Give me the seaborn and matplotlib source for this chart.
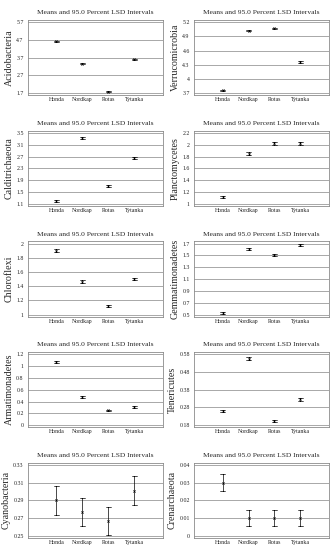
import numpy as np
import pandas as pd
import matplotlib
matplotlib.use("Agg")
import matplotlib.pyplot as plt
import seaborn as sns

# Groups (sites)
groups = ["Honda", "Nordkap", "Rotas", "Tytanka"]

# Means, one list per taxon
acidobacteria = [4.63, 3.36, 1.78, 3.60]
verrucomicrobia = [3.76, 5.02, 5.07, 4.36]
calditrichaeota = [1.20, 3.31, 1.69, 2.65]
planctomycetes = [1.12, 1.85, 2.02, 2.02]
chloroflexi = [1.90, 1.46, 1.12, 1.50]
gemmatimonadetes = [0.53, 1.61, 1.51, 1.67]
armatimonadetes = [1.07, 0.47, 0.25, 0.31]
tenericutes = [0.26, 0.554, 0.204, 0.327]
cyanobacteria = [0.290, 0.277, 0.267, 0.301]
crenarchaeota = [0.030, 0.010, 0.010, 0.010]

# LSD interval half widths
half_widths = [0.03, 0.015, 0.035, 0.02, 0.02, 0.015, 0.015, 0.008, 0.016, 0.0047]

# y tick values per panel
ticks_acido = [1.7, 2.7, 3.7, 4.7, 5.7]
ticks_verruco = [3.7, 4, 4.3, 4.6, 4.9, 5.2]
ticks_caldi = [1.1, 1.5, 1.9, 2.3, 2.7, 3.1, 3.5]
ticks_plancto = [1, 1.2, 1.4, 1.6, 1.8, 2, 2.2]
ticks_chloro = [1, 1.2, 1.4, 1.6, 1.8, 2]
ticks_gemma = [0.5, 0.7, 0.9, 1.1, 1.3, 1.5, 1.7]
ticks_armati = [0, 0.2, 0.4, 0.6, 0.8, 1, 1.2]
ticks_teneri = [0.18, 0.28, 0.38, 0.48, 0.58]
ticks_cyano = [0.25, 0.27, 0.29, 0.31, 0.33]
ticks_crena = [0, 0.01, 0.02, 0.03, 0.04]

panels = [
    ("Acidobacteria", acidobacteria, ticks_acido),
    ("Verrucomicrobia", verrucomicrobia, ticks_verruco),
    ("Calditrichaeota", calditrichaeota, ticks_caldi),
    ("Planctomycetes", planctomycetes, ticks_plancto),
    ("Chloroflexi", chloroflexi, ticks_chloro),
    ("Gemmatimonadetes", gemmatimonadetes, ticks_gemma),
    ("Armatimonadetes", armatimonadetes, ticks_armati),
    ("Tenericutes", tenericutes, ticks_teneri),
    ("Cyanobacteria", cyanobacteria, ticks_cyano),
    ("Crenarchaeota", crenarchaeota, ticks_crena),
]

sns.set_theme(style="white")
plt.rcParams["font.family"] = ["Liberation Serif", "DejaVu Serif"]

fig, axes = plt.subplots(5, 2, figsize=(3.32, 5.5), dpi=100)
fig.subplots_adjust(left=0.084, right=0.991, top=0.9636, bottom=0.0218,
                    hspace=0.47, wspace=0.23)

for ax, (name, means, ticks), hw in zip(axes.flat, panels, half_widths):
    # lower/upper interval ends -> mean and 100% range reproduce the interval
    df = pd.DataFrame({
        "site": groups * 2,
        "value": [m - hw for m in means] + [m + hw for m in means],
    })
    sns.pointplot(data=df, x="site", y="value", order=groups,
                  estimator="mean", errorbar=("pi", 100),
                  linestyle="none", marker="x", markersize=1.6,
                  markeredgewidth=0.5, color="black", capsize=0.18,
                  err_kws={"linewidth": 0.5}, ax=ax)
    rng = ticks[-1] - ticks[0]
    ax.set_ylim(ticks[0] - 0.03 * rng, ticks[-1] + 0.03 * rng)
    ax.set_xlim(-1.1, 4.1)
    ax.set_yticks(ticks)
    ax.set_yticklabels([f"{t:g}" for t in ticks])
    ax.yaxis.grid(True, color="#9a9a9a", linewidth=0.6)
    ax.xaxis.grid(False)
    ax.set_axisbelow(True)
    for sp in ax.spines.values():
        sp.set_color("#8a8a8a")
        sp.set_linewidth(0.6)
    ax.tick_params(axis="both", labelsize=4.2, length=1.5, width=0.4,
                   pad=1.5, colors="#222222")
    ax.tick_params(axis="x", length=0)
    ax.set_xlabel("")
    ax.set_ylabel(name, fontsize=7.2, labelpad=2)
    ax.set_title("Means and 95.0 Percent LSD Intervals", fontsize=5.4, pad=4)

fig.savefig("out.png", dpi=100)
plt.close(fig)
